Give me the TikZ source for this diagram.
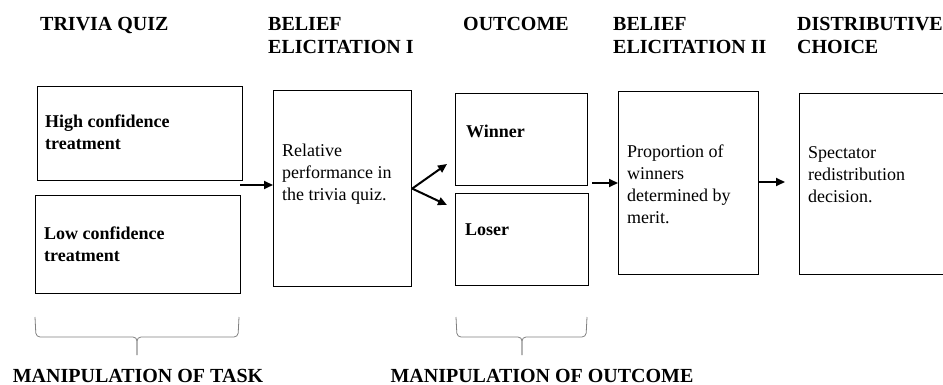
\documentclass[tikz,border=0pt]{standalone}
\usepackage{fontspec}
\setmainfont{Liberation Serif}
\usetikzlibrary{arrows.meta}

\tikzset{
  box/.style={draw, line width=1.2pt, anchor=north west, inner sep=0pt},
  head/.style={anchor=north west, inner sep=0pt, align=left, font=\fontsize{20}{23}\selectfont\bfseries},
  body/.style={anchor=north west, inner sep=0pt, align=left, font=\fontsize{18}{22}\selectfont},
  bodyb/.style={body, font=\fontsize{18}{22}\selectfont\bfseries},
  arr/.style={line width=2pt, -{Triangle[length=9pt,width=8pt]}},
  brace/.style={draw=black!50, line width=0.8pt, rounded corners=4pt},
}

\begin{document}
\begin{tikzpicture}[x=1pt,y=1pt,yscale=-1,xscale=1]
		\useasboundingbox (0,0) rectangle (943,385); % Diagram is 943 wide and 385 high
		\clip (0,0) rectangle (943,385);

		% Stage titles along the top
		\node[head] (tQuiz) at (40,17) {TRIVIA QUIZ};
		\node[head] (tBelOne) at (268,17) {BELIEF\\ELICITATION I};
		\node[head] (tOut) at (463,17) {OUTCOME};
		\node[head] (tBelTwo) at (613,17) {BELIEF\\ELICITATION II};
		\node[head] (tDist) at (797,17) {DISTRIBUTIVE\\CHOICE};

		% The two treatment boxes
		\node[box, minimum width=205pt, minimum height=94pt] (high) at (37,86) {};
		\node[box, minimum width=205pt, minimum height=98pt] (low) at (35,195) {};
		\node[bodyb] (highT) at (45,115) {High confidence\\treatment};
		\node[bodyb] (lowT) at (44,227) {Low confidence\\treatment};

		% First belief elicitation
		\node[box, minimum width=138pt, minimum height=196pt] (belOne) at (273,90) {};
		\node[body] (belOneT) at (282,144) {Relative\\performance in\\the trivia quiz.};

		% Winner and loser boxes
		\node[box, minimum width=132pt, minimum height=92pt] (winner) at (455,93) {};
		\node[box, minimum width=133pt, minimum height=92pt] (loser) at (455,193) {};
		\node[bodyb] (winnerT) at (466,125) {Winner};
		\node[bodyb] (loserT) at (465,224) {Loser};

		% Second belief elicitation
		\node[box, minimum width=140pt, minimum height=183pt] (belTwo) at (618,91) {};
		\node[body] (belTwoT) at (627,145) {Proportion of\\winners\\determined by\\merit.};

		% Distributive choice (runs off the right edge)
		\node[box, minimum width=160pt, minimum height=181pt] (dist) at (799,93) {};
		\node[body] (distT) at (808,146) {Spectator\\redistribution\\decision.};

		% Arrows between the stages
		\coordinate (fromQuiz) at (240,185);
		\draw[arr] (fromQuiz) -- (fromQuiz -| belOne.west);
		\coordinate (toWin) at (447,164);
		\coordinate (toLos) at (447,205);
		\draw[arr] (belOne.east) -- (toWin);
		\draw[arr] (belOne.east) -- (toLos);
		\coordinate (fromOut) at (592,183);
		\draw[arr] (fromOut) -- (fromOut -| belTwo.west);
		\coordinate (toDist) at (785,182);
		\draw[arr] (toDist -| belTwo.east) -- (toDist);

		% Braces under the manipulated stages
		\foreach \l/\m/\r in {35/137/239, 456/522/587}{
			\draw[brace] (\l,317) -- (\l+1,337) -- (\m,337) -- (\m,355);
			\draw[brace] (\r,317) -- (\r-1,337) -- (\m,337) -- (\m,355);
		}

		% Labels under the braces
		\node[head, anchor=base] (manTask) at (138,382) {MANIPULATION OF TASK};
		\node[head, anchor=base] (manOut) at (542,382) {MANIPULATION OF OUTCOME};
	\end{tikzpicture}
\end{document}
